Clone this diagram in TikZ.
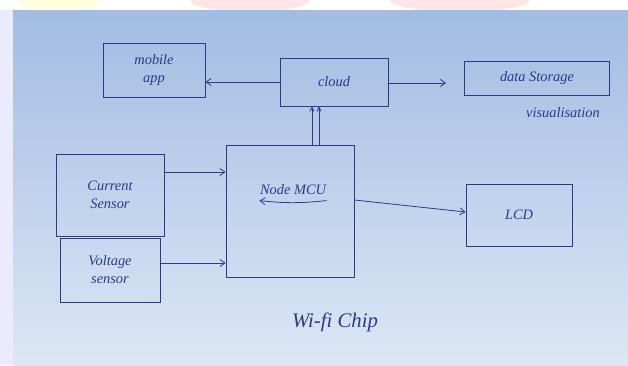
\documentclass[tikz,border=0pt]{standalone}
\usepackage{fontspec}
\setmainfont{Liberation Serif}
\usetikzlibrary{arrows.meta,calc}
\definecolor{ink}{HTML}{2B3A86}
\definecolor{papertop}{HTML}{A2BCE2}
\definecolor{paperbot}{HTML}{DCE7F6}
\begin{document}
\begin{tikzpicture}[x=1pt,y=-1pt,
  box/.style={draw=ink,line width=0.9pt,text=ink,align=center,inner sep=2pt,font=\itshape\Large},
  lbl/.style={text=ink,font=\itshape\Large},
  conn/.style={draw=ink,line width=0.8pt,-{Straight Barb[length=5pt,width=7pt]}},
  thin conn/.style={draw=ink,line width=0.8pt,-{Straight Barb[length=4pt,width=4pt]}}]
\useasboundingbox (0,0) rectangle (628,365);
\fill[white] (0,0) rectangle (628,365);
\fill[yellow!12] (60,0) ellipse (40 and 14);
\fill[red!10] (250,0) ellipse (60 and 12);
\fill[red!10] (460,0) ellipse (70 and 12);
\fill[blue!8] (0,10) rectangle (13,365);
\shade[top color=papertop,bottom color=paperbot] (13,10) rectangle (628,365);
% nodes
\node[box,minimum width=102pt,minimum height=54pt] (mobile) at (154,70) {mobile\\app};
\node[box,minimum width=108pt,minimum height=48pt] (cloud) at (334,82) {cloud};
\node[box,minimum width=145pt,minimum height=34pt] (data) at (537,78) {data Storage};
\node[lbl] (vis) at (563,113) {visualisation};
\node[box,minimum width=108pt,minimum height=82pt] (current) at (110,195) {Current\\Sensor};
\node[box,minimum width=100pt,minimum height=64pt] (voltage) at (110,270) {Voltage\\sensor};
\node[box,minimum width=128pt,minimum height=132pt] (mcu) at (290,211) {};
\node[lbl] (mcutext) at (293,190) {Node MCU};
\node[box,minimum width=106pt,minimum height=62pt] (lcd) at (519,215) {LCD};
\node[lbl,font=\itshape\huge] (wifi) at (335,322) {Wi-fi Chip};
\coordinate (dataend) at (446,83);
% connectors
\draw[conn] (cloud.west) -- (mobile.east |- cloud.west);
\draw[conn] (cloud.east |- dataend) -- (dataend);
\draw[thin conn] ([xshift=22pt]mcu.north) -- ([xshift=-22pt]cloud.south);
\draw[thin conn] ([xshift=29pt]mcu.north) -- ([xshift=-15pt]cloud.south);
\draw[conn] (current.east |- 0,172) -- (mcu.west |- 0,172);
\draw[conn] (voltage.east |- 0,263) -- (mcu.west |- 0,263);
\draw[conn] (mcu.east |- 0,200) -- (lcd.west |- 0,212);
\draw[conn] ($(mcutext.south east)+(-3,2)$) to[bend left=6] ($(mcutext.south west)+(3,2)$);
\end{tikzpicture}
\end{document}
